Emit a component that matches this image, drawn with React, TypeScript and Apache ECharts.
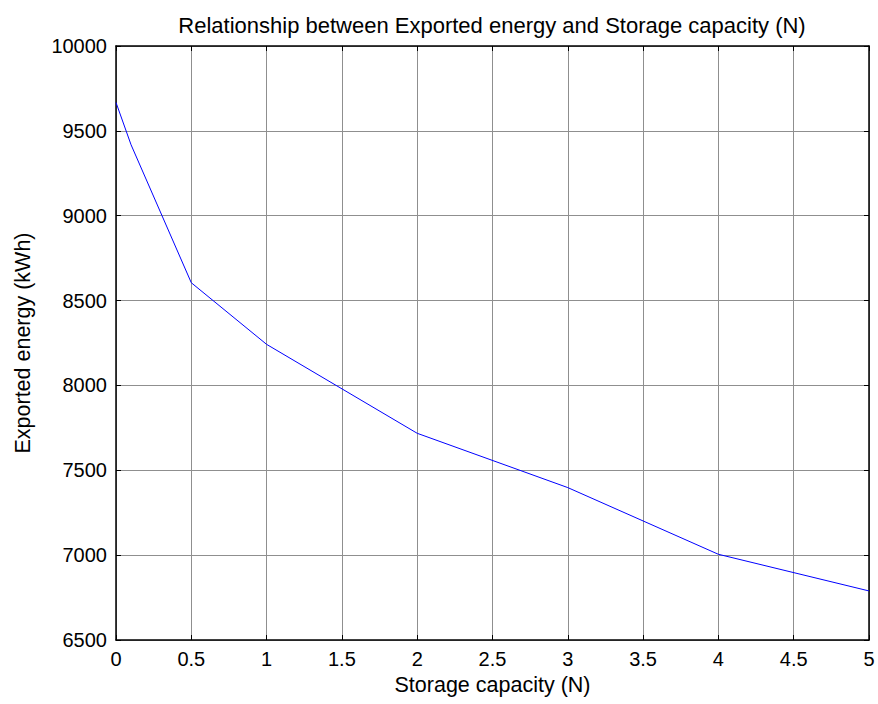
import React, { useEffect, useRef } from "react";
import * as echarts from "echarts";

const storageCapacity = [0, 0.1, 0.5, 1, 2, 3, 4, 5];
const exportedEnergy = [9667, 9418, 8605, 8242, 7718, 7398, 7005, 6789];
const titleText = "Relationship between Exported energy and Storage capacity (N)";
const xName = "Storage capacity (N)";
const yName = "Exported energy (kWh)";

const FONT = "Liberation Sans, Arial, sans-serif";

export default function App() {
  const ref = useRef<HTMLDivElement>(null);
  useEffect(() => {
    if (!ref.current) return;
    const chart = echarts.init(ref.current, null, { renderer: "svg" });
    const gridLine = { show: true, lineStyle: { color: "#8f8f8f", width: 1 } };
    const axisLine = { show: true, onZero: false, lineStyle: { color: "#000", width: 1.5 } };
    const ticks = { show: true, inside: true, length: 5, lineStyle: { color: "#000" } };
    chart.setOption({
      animation: false,
      backgroundColor: "#fff",
      graphic: [
        {
          type: "text",
          x: 492,
          y: 25,
          style: {
            text: titleText,
            fontSize: 22,
            fontFamily: FONT,
            fill: "#000",
            textAlign: "center",
            textVerticalAlign: "middle",
          },
        },
      ],
      grid: { left: 116, right: 9, top: 46, bottom: 64 },
      xAxis: [
        {
          type: "value",
          min: 0,
          max: 5,
          interval: 0.5,
          position: "bottom",
          name: xName,
          nameLocation: "middle",
          nameGap: 33,
          nameTextStyle: { fontSize: 21.5, fontFamily: FONT, color: "#000" },
          axisLine,
          axisTick: ticks,
          splitLine: gridLine,
          axisLabel: { fontSize: 20, fontFamily: FONT, color: "#000", margin: 9 },
        },
        {
          type: "value",
          min: 0,
          max: 5,
          interval: 0.5,
          position: "top",
          axisLine,
          axisTick: ticks,
          splitLine: { show: false },
          axisLabel: { show: false },
        },
      ],
      yAxis: [
        {
          type: "value",
          min: 6500,
          max: 10000,
          interval: 500,
          position: "left",
          name: yName,
          nameLocation: "middle",
          nameGap: 82,
          nameTextStyle: { fontSize: 21.5, fontFamily: FONT, color: "#000" },
          axisLine,
          axisTick: ticks,
          splitLine: gridLine,
          axisLabel: {
            fontSize: 20,
            fontFamily: FONT,
            color: "#000",
            margin: 9,
            formatter: (v: number) => String(v),
          },
        },
        {
          type: "value",
          min: 6500,
          max: 10000,
          interval: 500,
          position: "right",
          axisLine,
          axisTick: ticks,
          splitLine: { show: false },
          axisLabel: { show: false },
        },
      ],
      series: [
        {
          type: "line",
          data: storageCapacity.map((x, i) => [x, exportedEnergy[i]]),
          showSymbol: false,
          lineStyle: { color: "#0000ff", width: 1 },
          xAxisIndex: 0,
          yAxisIndex: 0,
        },
      ],
    });
    return () => chart.dispose();
  }, []);
  return (
    <div
      ref={ref}
      style={{ position: "fixed", left: 0, top: 0, width: 878, height: 704 }}
    />
  );
}
